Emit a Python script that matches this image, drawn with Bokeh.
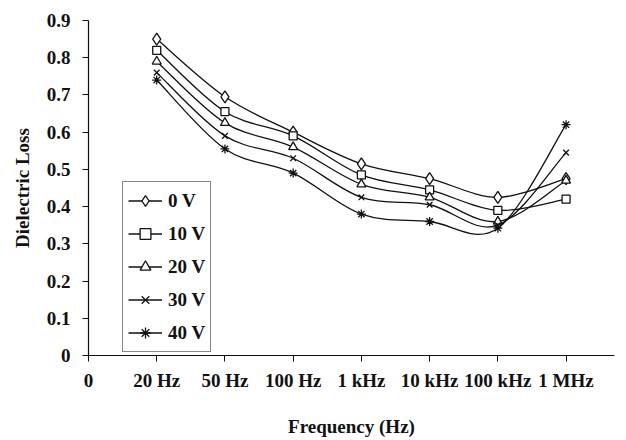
from bokeh.plotting import figure
from bokeh.models import Range1d, FixedTicker, Legend, LegendItem
from bokeh.embed import file_html
from bokeh.resources import INLINE

categories = ["20 Hz", "50 Hz", "100 Hz", "1 kHz", "10 kHz", "100 kHz", "1 MHz"]
series_names = ["0 V", "10 V", "20 V", "30 V", "40 V"]
loss_0v = [0.85, 0.695, 0.60, 0.515, 0.475, 0.425, 0.475]
loss_10v = [0.82, 0.655, 0.59, 0.485, 0.445, 0.39, 0.42]
loss_20v = [0.79, 0.625, 0.56, 0.46, 0.425, 0.36, 0.47]
loss_30v = [0.76, 0.59, 0.53, 0.425, 0.405, 0.35, 0.545]
loss_40v = [0.74, 0.555, 0.49, 0.38, 0.36, 0.342, 0.62]
y_ticks = [0, 0.1, 0.2, 0.3, 0.4, 0.5, 0.6, 0.7, 0.8, 0.9]

FONT = "Liberation Serif"
INK = "#111111"

x_pos = list(range(1, len(categories) + 1))

p = figure(width=626, height=440, output_backend="svg", toolbar_location=None,
           x_range=Range1d(0, 7.71), y_range=Range1d(0, 0.9),
           min_border_left=88, min_border_right=12, min_border_top=20, min_border_bottom=85)
p.outline_line_color = None
p.xgrid.visible = False
p.ygrid.visible = False
p.background_fill_color = "white"
p.border_fill_color = "white"

# axes
p.xaxis.ticker = FixedTicker(ticks=[0] + x_pos)
p.xaxis.major_label_overrides = {0: "0", **{i + 1: c for i, c in enumerate(categories)}}
p.yaxis.ticker = FixedTicker(ticks=y_ticks)
p.yaxis.major_label_overrides = {t: f"{t:g}" for t in y_ticks}
for ax in (p.xaxis[0], p.yaxis[0]):
    ax.axis_line_color = INK
    ax.axis_line_width = 1.2
    ax.major_tick_line_color = INK
    ax.major_tick_in = 0
    ax.major_tick_out = 6
    ax.minor_tick_line_color = None
    ax.major_label_text_font = FONT
    ax.major_label_text_font_style = "bold"
    ax.major_label_text_font_size = "19px"
    ax.major_label_text_color = INK
    ax.axis_label_text_font = FONT
    ax.axis_label_text_font_style = "bold"
    ax.axis_label_text_font_size = "19px"
    ax.axis_label_text_color = INK
p.xaxis.axis_label = "Frequency (Hz)"
p.yaxis.axis_label = "Dielectric Loss"
p.xaxis.major_label_standoff = 8
p.xaxis.axis_label_standoff = 22
p.yaxis.major_label_standoff = 12
p.yaxis.axis_label_standoff = 11


def smooth(xs, ys):
    n = len(xs)
    x0, y0, x1, y1, cx0, cy0, cx1, cy1 = [], [], [], [], [], [], [], []
    for i in range(n - 1):
        a = i - 1 if i > 0 else i
        d = i + 2 if i + 2 < n else i + 1
        x0.append(xs[i]); y0.append(ys[i])
        x1.append(xs[i + 1]); y1.append(ys[i + 1])
        cx0.append(xs[i] + (xs[i + 1] - xs[a]) / 6)
        cy0.append(ys[i] + (ys[i + 1] - ys[a]) / 6)
        cx1.append(xs[i + 1] - (xs[d] - xs[i]) / 6)
        cy1.append(ys[i + 1] - (ys[d] - ys[i]) / 6)
    return dict(x0=x0, y0=y0, x1=x1, y1=y1, cx0=cx0, cy0=cy0, cx1=cx1, cy1=cy1)


series = [loss_0v, loss_10v, loss_20v, loss_30v, loss_40v]
markers = [("diamond", 12), ("square", 8), ("triangle", 9), ("x", 8), ("asterisk", 9)]

items = []
for name, ys, (mk, sz) in zip(series_names, series, markers):
    bz = p.bezier(line_color=INK, line_width=1.3, **smooth(x_pos, ys))
    sc = p.scatter(x_pos, ys, marker=mk, size=sz, line_color=INK, fill_color="white",
                   line_width=1.3)
    items.append(LegendItem(label=name, renderers=[bz, sc], index=0))

legend = Legend(items=items, location=(34, 3))
legend.border_line_color = INK
legend.border_line_width = 1.2
legend.background_fill_color = "white"
legend.background_fill_alpha = 1
legend.label_text_font = FONT
legend.label_text_font_style = "bold"
legend.label_text_font_size = "19px"
legend.label_text_color = INK
legend.padding = 5
legend.spacing = 6
legend.glyph_height = 27
legend.glyph_width = 34
legend.label_standoff = 6
legend.margin = 0
p.add_layout(legend, "center")

open("out.html", "w").write(file_html(p, INLINE))
